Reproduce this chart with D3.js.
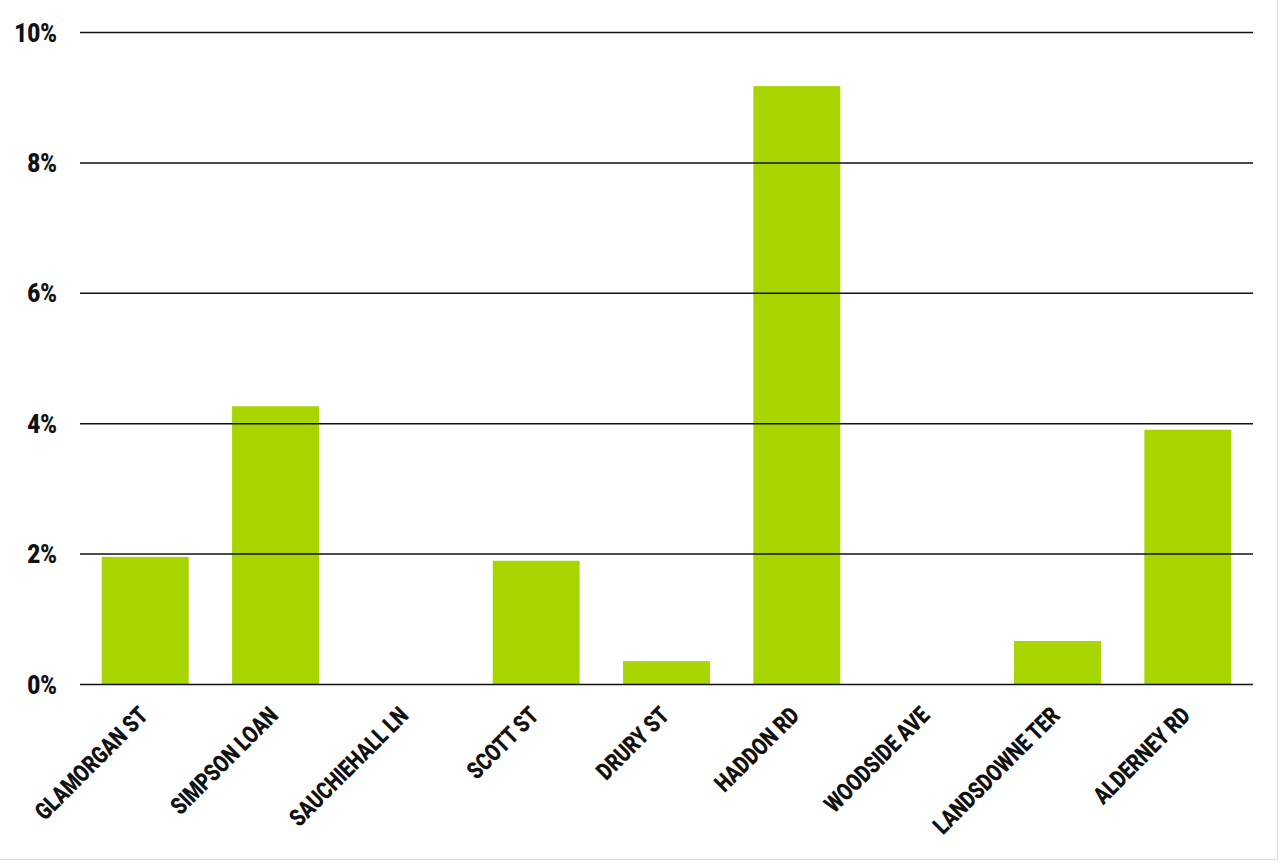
<!DOCTYPE html>
<html>
<head>
<meta charset="utf-8">
<script src="https://cdn.jsdelivr.net/npm/d3@7"></script>
<style>
  body { margin: 0; background: #fff; }
  #chart { width: 1277px; height: 859px; border-right: 1px solid #ddd; border-bottom: 1px solid #ddd; }
  text { font-family: Roboto, "Liberation Sans", sans-serif; font-weight: 900; fill: #111; }
</style>
</head>
<body>
<div id="chart"></div>
<script>
// street names along the x axis
var streets = ["GLAMORGAN ST", "SIMPSON LOAN", "SAUCHIEHALL LN", "SCOTT ST", "DRURY ST",
               "HADDON RD", "WOODSIDE AVE", "LANDSDOWNE TER", "ALDERNEY RD"];
// share in percent
var shares = [1.95, 4.26, 0, 1.89, 0.35, 9.17, 0, 0.66, 3.90];
var yTicks = [0, 2, 4, 6, 8, 10];

var W = 1277, H = 859;
var plotLeft = 80, plotRight = 1253, plotTop = 32, plotBottom = 684;

var svg = d3.select("#chart").append("svg")
    .attr("width", W)
    .attr("height", H);

var x = d3.scaleBand()
    .domain(streets)
    .range([plotLeft, plotRight])
    .paddingInner(0.333)
    .paddingOuter(0.1667);

var y = d3.scaleLinear()
    .domain([0, 10])
    .range([plotBottom, plotTop]);

// bars first, gridlines over them
svg.append("g").selectAll("rect")
    .data(streets)
    .enter().append("rect")
    .attr("x", function (d) { return x(d); })
    .attr("y", function (d, i) { return y(shares[i]); })
    .attr("width", x.bandwidth())
    .attr("height", function (d, i) { return plotBottom - y(shares[i]); })
    .attr("fill", "#a8d500");

var yAxis = d3.axisLeft(y)
    .tickValues(yTicks)
    .tickSize(-(plotRight - plotLeft))
    .tickPadding(23)
    .tickFormat(function (d) { return d + "%"; });

var gy = svg.append("g")
    .attr("transform", "translate(" + plotLeft + ",0)")
    .call(yAxis);
gy.select(".domain").remove();
gy.selectAll(".tick line").attr("stroke", "#111").attr("stroke-width", 1.5);
gy.selectAll(".tick text")
    .style("font-size", "25px")
    .attr("x", 0)
    .attr("dy", "0.36em")
    .attr("transform", "translate(-23,0) scale(0.9,1)");

var xAxis = d3.axisBottom(x).tickSize(0).tickPadding(0);
var gx = svg.append("g")
    .attr("transform", "translate(0," + plotBottom + ")")
    .call(xAxis);
gx.select(".domain").remove();
gx.selectAll(".tick text")
    .style("font-size", "24px")
    .attr("text-anchor", "end")
    .attr("dy", null)
    .attr("y", 0)
    .attr("transform", "translate(4,33) rotate(-45) scale(0.8,1)");
</script>
</body>
</html>
